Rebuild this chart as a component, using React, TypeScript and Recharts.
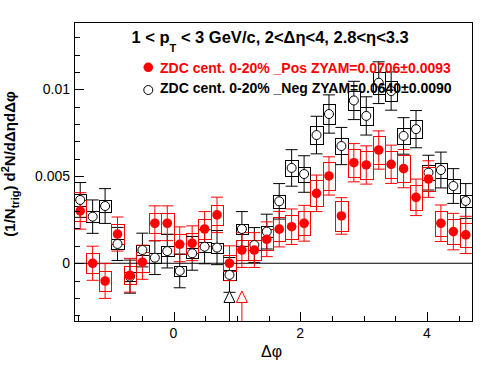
import { ComposedChart, Scatter, XAxis, YAxis, ErrorBar, ReferenceArea, ReferenceLine } from 'recharts';

// bin centres in delta-phi (32 bins from -pi/2 to 3pi/2)
const dphi = [
  -1.4726, -1.2763, -1.0799, -0.8836, -0.6872, -0.4909, -0.2945, -0.0982,
  0.0982, 0.2945, 0.4909, 0.6872, 0.8836, 1.0799, 1.2763, 1.4726,
  1.669, 1.8653, 2.0617, 2.258, 2.4544, 2.6507, 2.8471, 3.0434,
  3.2398, 3.4361, 3.6325, 3.8288, 4.0252, 4.2215, 4.4179, 4.6142,
];
const halfBin = 0.0982;

// _Pos (red, filled)
const posVal = [
  0.00301, 0.0, -0.00102, 0.00168, -0.00069, 0.00006, 0.0023, 0.0023,
  0.00109, 0.00115, 0.00197, 0.00278, 0.0, 0.00076, 0.00076, 0.00138,
  0.00196, 0.0021, 0.0023, 0.00402, 0.00502, 0.00272, 0.00578, 0.00565,
  0.00651, 0.00569, 0.00544, 0.00379, 0.00484, 0.0023, 0.00182, 0.00163,
];
const posStat = [
  0.00105, 0.00098, 0.001, 0.00098, 0.00097, 0.00098, 0.001, 0.001,
  0.001, 0.001, 0.001, 0.00102, 0.001, 0.001, 0.001, 0.001,
  0.00102, 0.00102, 0.00103, 0.00105, 0.0011, 0.00105, 0.0011, 0.0011,
  0.0011, 0.0011, 0.0011, 0.00105, 0.00105, 0.00105, 0.00105, 0.00107,
];
const posSys = [
  0.0006, 0.00057, 0.00057, 0.00057, 0.00052, 0.00057, 0.00057, 0.0006,
  0.00057, 0.00057, 0.00057, 0.00058, 0.00045, 0.00058, 0.00058, 0.0006,
  0.0007, 0.0007, 0.0007, 0.00075, 0.00079, 0.00086, 0.0008, 0.0008,
  0.0008, 0.00078, 0.00078, 0.0007, 0.0007, 0.00072, 0.0007, 0.00068,
];

// _Neg (black, open)
const negVal = [
  0.00364, 0.00268, 0.00329, 0.00111, -0.00077, 0.00076, 0.00032, 0.0007,
  -0.00044, 0.00057, 0.00095, 0.0009, -0.00067, 0.00197, 0.00105, 0.00182,
  0.00356, 0.00548, 0.00513, 0.00737, 0.00858, 0.00674, 0.00936, 0.00847,
  0.01038, 0.0099, 0.00732, 0.00771, 0.00521, 0.00536, 0.00444, 0.00358,
];
const negStat = [
  0.001, 0.00096, 0.001, 0.00095, 0.00095, 0.00097, 0.00097, 0.00097,
  0.00097, 0.00097, 0.00098, 0.00098, 0.001, 0.001, 0.001, 0.001,
  0.00102, 0.00105, 0.00105, 0.00108, 0.0011, 0.00107, 0.0011, 0.0011,
  0.0012, 0.0011, 0.00105, 0.00107, 0.001, 0.00103, 0.001, 0.001,
];
const negSys = [
  0.00033, 0.0003, 0.00032, 0.00028, 0.00027, 0.00028, 0.00028, 0.00028,
  0.00027, 0.00028, 0.00029, 0.00029, 0.00028, 0.0003, 0.00028, 0.0003,
  0.00037, 0.00045, 0.00043, 0.0005, 0.00055, 0.00048, 0.00057, 0.00053,
  0.00063, 0.0006, 0.00046, 0.00052, 0.00043, 0.00043, 0.00038, 0.00033,
];

// ZYAM minimum markers (black = _Neg, red = _Pos)
const zyamNeg = [{ x: 0.8836, y: -0.00194 }];
const zyamPos = [{ x: 1.0799, y: -0.00194 }];
const zyamBase = -0.00225;

const xMin = -Math.PI / 2;
const xMax = (3 * Math.PI) / 2;
const yMin = -0.00332;
const yMax = 0.01387;

const xTicks = [-1.5, -1, -0.5, 0, 0.5, 1, 1.5, 2, 2.5, 3, 3.5, 4, 4.5];
const xMajor = [0, 2, 4];
const yTicks = [
  -0.003, -0.002, -0.001, 0, 0.001, 0.002, 0.003, 0.004, 0.005, 0.006,
  0.007, 0.008, 0.009, 0.01, 0.011, 0.012, 0.013,
];
const yMajor = [0, 0.005, 0.01];

const FONT = '"Liberation Sans", Arial, Helvetica, sans-serif';

const negData = dphi.map((x, i) => ({ x, y: negVal[i], err: negStat[i] }));
const posData = dphi.map((x, i) => ({ x, y: posVal[i], err: posStat[i] }));

const isMajor = (list: number[], v: number) => list.some((m) => Math.abs(m - v) < 1e-9);
const crisp = (v: number) => Math.round(v) + 0.5;

const XTick = (props: any) => {
  const { x, y, payload } = props;
  const major = isMajor(xMajor, payload.value);
  const cx = crisp(x);
  return (
    <g>
      <line x1={cx} x2={cx} y1={y} y2={y - (major ? 9 : 5)} stroke="#000" />
      {major && (
        <text x={x} y={y + 17} textAnchor="middle" fontSize={14} fontFamily={FONT} fill="#000">
          {payload.value}
        </text>
      )}
    </g>
  );
};

const YTick = (props: any) => {
  const { x, y, payload } = props;
  const major = isMajor(yMajor, payload.value);
  const cy = crisp(y);
  return (
    <g>
      <line x1={x} x2={x + (major ? 10 : 6)} y1={cy} y2={cy} stroke="#000" />
      {major && (
        <text x={x - 4} y={y + 5} textAnchor="end" fontSize={14} fontFamily={FONT} fill="#000">
          {payload.value}
        </text>
      )}
    </g>
  );
};

// hollow rectangle for the systematic boxes and the frame
const outline = (color: string) => (p: any) => {
  const x0 = crisp(p.x);
  const y0 = crisp(p.y);
  const x1 = crisp(p.x + p.width);
  const y1 = crisp(p.y + p.height);
  return <rect x={x0} y={y0} width={x1 - x0} height={y1 - y0} fill="none" stroke={color} strokeWidth={1} />;
};

const triangle = (color: string) => (p: any) => (
  <polygon
    points={`${p.cx},${p.cy - 6} ${p.cx - 5.5},${p.cy + 5.5} ${p.cx + 5.5},${p.cy + 5.5}`}
    fill="#fff"
    stroke={color}
    strokeWidth={1}
  />
);

export default function App() {
  return (
    <div style={{ position: 'absolute', left: 0, top: 0, width: 496, height: 374, background: '#fff' }}>
      <ComposedChart width={496} height={374} margin={{ top: 22, right: 24, bottom: 0, left: 0 }}>
        <XAxis
          type="number"
          dataKey="x"
          domain={[xMin, xMax]}
          allowDataOverflow
          ticks={xTicks}
          interval={0}
          tick={<XTick />}
          tickSize={0}
          tickMargin={0}
          axisLine={false}
          tickLine={false}
          height={53}
        />
        <YAxis
          type="number"
          domain={[yMin, yMax]}
          allowDataOverflow
          ticks={yTicks}
          interval={0}
          tick={<YTick />}
          tickSize={0}
          tickMargin={0}
          axisLine={false}
          tickLine={false}
          width={74}
        />
        <ReferenceLine y={0} stroke="#000" strokeWidth={1} />

        {dphi.map((x, i) => (
          <ReferenceArea
            key={`nb${i}`}
            x1={x - halfBin}
            x2={x + halfBin}
            y1={negVal[i] - negSys[i]}
            y2={negVal[i] + negSys[i]}
            shape={outline('#000')}
            ifOverflow="visible"
          />
        ))}
        {dphi.map((x, i) => (
          <ReferenceArea
            key={`pb${i}`}
            x1={x - halfBin}
            x2={x + halfBin}
            y1={posVal[i] - posSys[i]}
            y2={posVal[i] + posSys[i]}
            shape={outline('#ff0000')}
            ifOverflow="visible"
          />
        ))}

        <ReferenceLine
          segment={[{ x: zyamNeg[0].x, y: zyamBase }, { x: zyamNeg[0].x, y: yMin }]}
          stroke="#000"
          ifOverflow="visible"
        />
        <ReferenceLine
          segment={[{ x: zyamPos[0].x, y: zyamBase }, { x: zyamPos[0].x, y: yMin }]}
          stroke="#ff0000"
          ifOverflow="visible"
        />

        <Scatter
          data={negData}
          dataKey="y"
          isAnimationActive={false}
          shape={(p: any) => <circle cx={p.cx} cy={p.cy} r={4.5} fill="#fff" stroke="#000" strokeWidth={1} />}
        >
          <ErrorBar dataKey="err" direction="y" width={6} stroke="#000" strokeWidth={1} />
        </Scatter>
        <Scatter
          data={posData}
          dataKey="y"
          isAnimationActive={false}
          shape={(p: any) => <circle cx={p.cx} cy={p.cy} r={4.8} fill="#ff0000" />}
        >
          <ErrorBar dataKey="err" direction="y" width={6} stroke="#ff0000" strokeWidth={1} />
        </Scatter>
        <Scatter data={zyamNeg} dataKey="y" isAnimationActive={false} shape={triangle('#000')} />
        <Scatter data={zyamPos} dataKey="y" isAnimationActive={false} shape={triangle('#ff0000')} />

        <ReferenceArea x1={xMin} x2={xMax} y1={yMin} y2={yMax} shape={outline('#000')} ifOverflow="visible" />
      </ComposedChart>

      <svg
        width={496}
        height={374}
        style={{ position: 'absolute', left: 0, top: 0, pointerEvents: 'none' }}
        fontFamily={FONT}
      >
        <text x={131.5} y={43} fontSize={16.5} fontWeight="bold" fill="#000">
          1 &lt; p<tspan fontSize={11} dy={9}>T</tspan>
          <tspan dy={-9}> &lt; 3 GeV/c, 2&lt;Δη&lt;4, 2.8&lt;η&lt;3.3</tspan>
        </text>

        <circle cx={148.3} cy={67.3} r={4.8} fill="#ff0000" />
        <text x={160} y={72.7} fontSize={14} fontWeight="bold" fill="#ff0000">
          ZDC cent. 0-20% _Pos ZYAM=0.0706±0.0093
        </text>
        <circle cx={148.3} cy={90} r={4.5} fill="#fff" stroke="#000" strokeWidth={1} />
        <text x={160} y={93.3} fontSize={14} fontWeight="bold" fill="#000">
          ZDC cent. 0-20% _Neg ZYAM=0.0640±0.0090
        </text>

        <text x={271.5} y={356.5} fontSize={16} fontWeight="normal" textAnchor="middle" fill="#000">
          Δφ
        </text>

        <text
          x={15}
          y={164}
          fontSize={15}
          fontWeight="bold"
          textAnchor="middle"
          fill="#000"
          transform="rotate(-90 15 164)"
        >
          (1/N<tspan fontSize={11} dy={4}>trig</tspan>
          <tspan dy={-4}>) d</tspan>
          <tspan fontSize={11} dy={-6}>2</tspan>
          <tspan dy={6}>N/dΔηdΔφ</tspan>
        </text>
      </svg>
    </div>
  );
}
